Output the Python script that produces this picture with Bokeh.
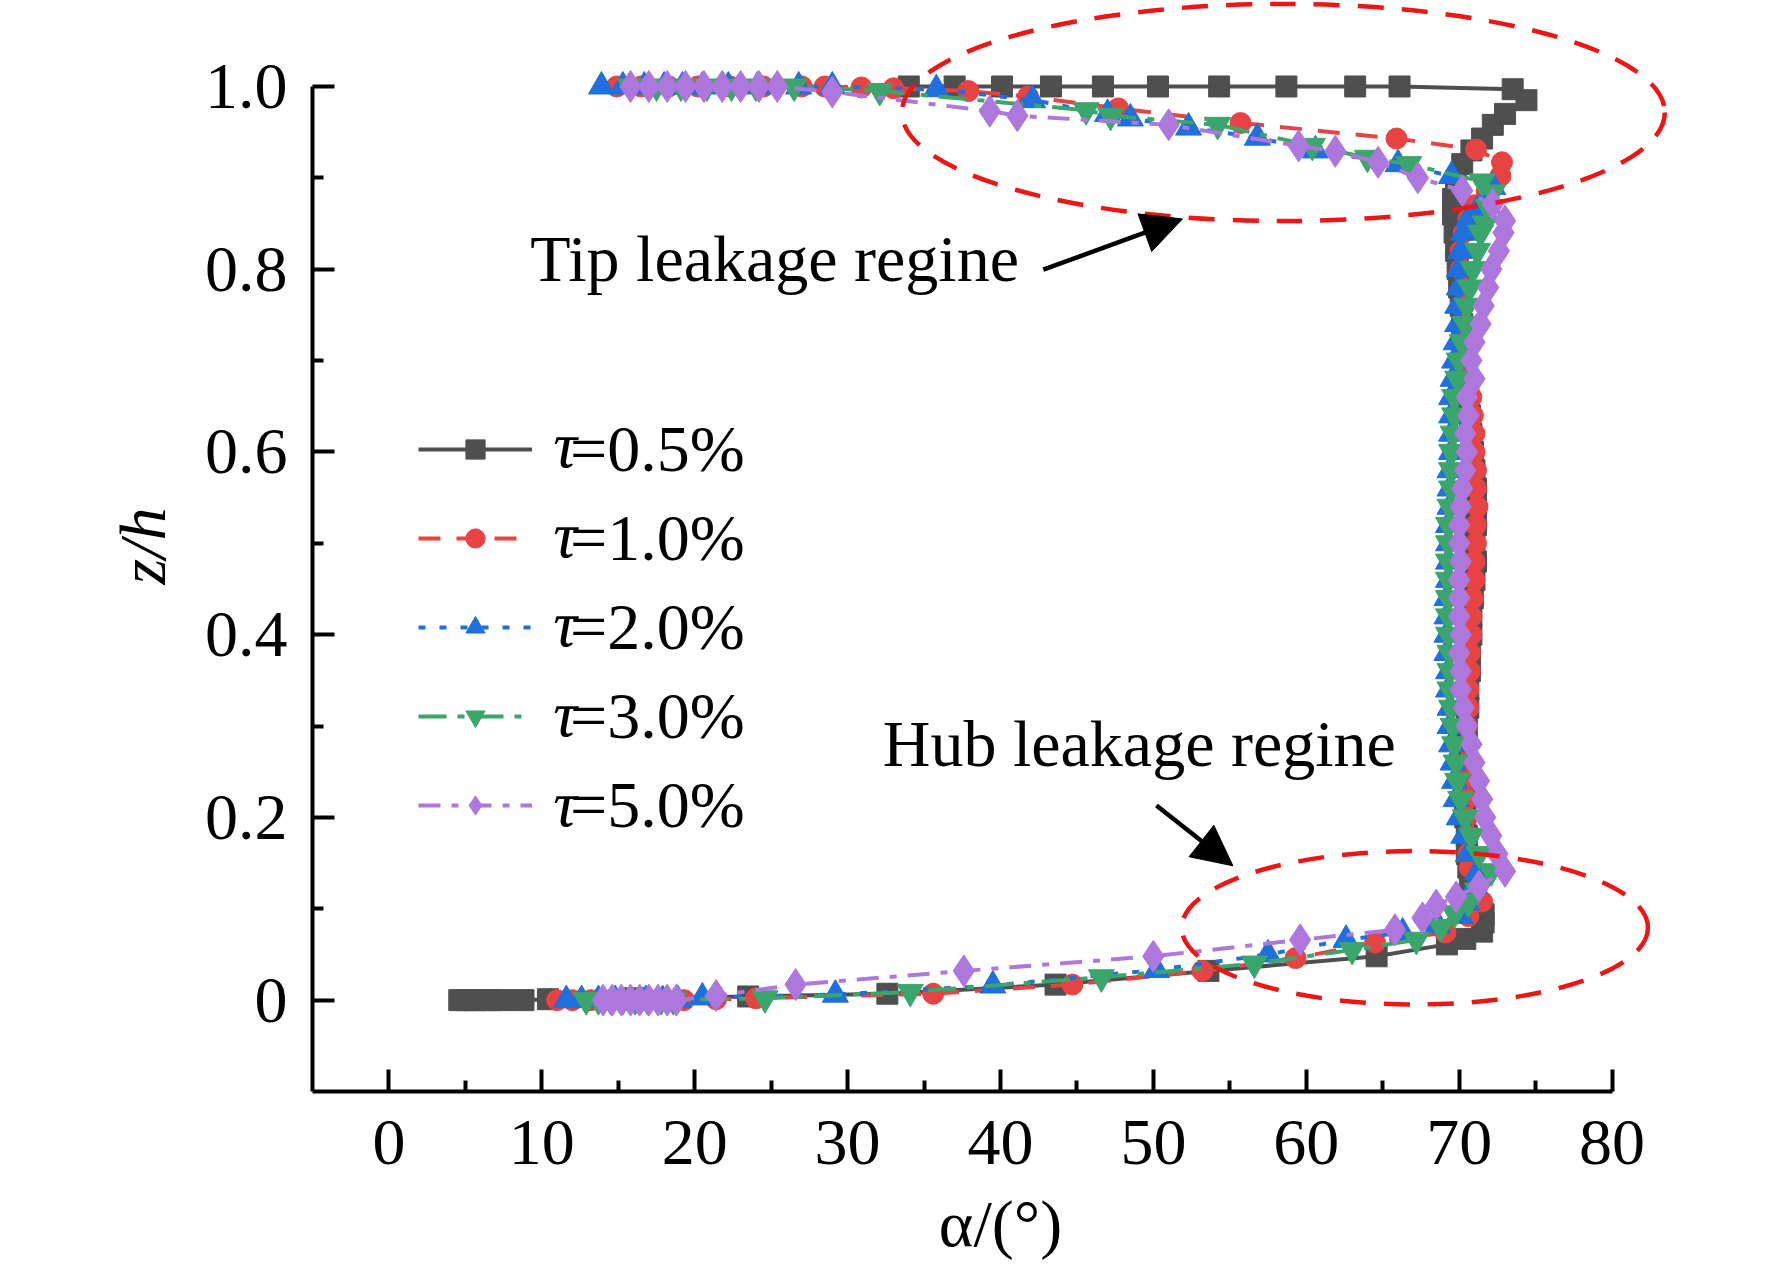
from bokeh.plotting import figure
from bokeh.models import Range1d, FixedTicker, Legend, LegendItem, Label, Arrow, NormalHead
from bokeh.embed import file_html
from bokeh.resources import INLINE

# ---------------- data ----------------
z_mid = [0.16, 0.18, 0.20, 0.22, 0.24, 0.26, 0.28, 0.30, 0.32, 0.34, 0.36, 0.38,
         0.40, 0.42, 0.44, 0.46, 0.48, 0.50, 0.52, 0.54, 0.56, 0.58, 0.60, 0.62,
         0.64, 0.66, 0.68, 0.70, 0.72, 0.74, 0.76, 0.78, 0.80, 0.82, 0.84]

# tau = 0.5 %
z05_bottom = [0, 0, 0, 0, 0, 0, 0, 0.001, 0.002, 0.004, 0.007, 0.017, 0.032, 0.048,
              0.061, 0.067, 0.075, 0.085, 0.094, 0.11, 0.13, 0.145]
a05_bottom = [4.6, 5.1, 5.6, 6.1, 6.7, 7.4, 8.8, 10.4, 16.0, 23.5, 32.6, 43.6, 53.6, 64.6,
              69.2, 70.4, 71.5, 71.6, 71.6, 71.1, 70.7, 70.6]
a05_mid = [70.5, 70.5, 70.4, 70.4, 70.4, 70.5, 70.5, 70.5, 70.6, 70.6, 70.7, 70.7,
           70.8, 70.8, 70.9, 71.0, 71.1, 71.0, 71.1, 71.1, 71.1, 71.0, 70.9, 70.8,
           70.7, 70.6, 70.5, 70.4, 70.3, 70.2, 70.1, 70.0, 69.9, 69.8, 69.7]
z05_top = [0.86, 0.877, 0.896, 0.915, 0.93, 0.943, 0.958, 0.970, 0.985, 0.997,
           1, 1, 1, 1, 1, 1, 1, 1, 1, 1]
a05_top = [69.6, 69.6, 69.8, 70.2, 70.8, 71.5, 72.2, 73.0, 74.4, 73.5,
           66.1, 63.2, 58.7, 54.3, 50.3, 46.7, 43.3, 40.1, 37.0, 34.0]

# tau = 1.0 %
z10_bottom = [0, 0, 0, 0, 0, 0, 0, 0, 0.001, 0.002, 0.007, 0.017, 0.032, 0.046,
              0.063, 0.074, 0.092, 0.108, 0.125, 0.145]
a10_bottom = [11.0, 12.0, 13.2, 14.5, 15.8, 17.0, 18.2, 19.3, 21.4, 24.0, 35.6, 44.7, 53.2, 59.3,
              64.5, 69.1, 70.6, 71.5, 71.2, 70.7]
a10_mid = [70.6, 70.6, 70.5, 70.5, 70.5, 70.5, 70.5, 70.5, 70.6, 70.6, 70.7, 70.7,
           70.8, 70.8, 70.9, 71.0, 71.0, 71.1, 71.1, 71.2, 71.1, 71.1, 71.0, 71.0,
           70.9, 70.8, 70.7, 70.6, 70.5, 70.4, 70.3, 70.2, 70.1, 70.1, 70.3]
z10_top = [0.855, 0.87, 0.885, 0.902, 0.917, 0.931, 0.943, 0.960, 0.976, 0.989, 0.995,
           0.998, 0.999, 1, 1, 1, 1, 1, 1, 1, 1]
a10_top = [70.6, 71.0, 71.8, 72.7, 72.8, 71.1, 65.9, 55.7, 47.7, 41.8, 37.9,
           33.0, 30.9, 28.5, 27.0, 24.5, 22.3, 20.2, 18.3, 16.5, 14.9]

# tau = 2.0 %
z20_bottom = [0, 0, 0, 0, 0, 0, 0, 0, 0.003, 0.006, 0.016, 0.033, 0.05, 0.066,
              0.074, 0.082, 0.092, 0.107, 0.125, 0.14]
a20_bottom = [11.6, 12.6, 13.7, 14.8, 15.8, 16.8, 17.9, 18.9, 20.5, 29.2, 39.5, 50.2, 57.5, 62.6,
              66.3, 68.6, 70.1, 70.5, 71.0, 71.2]
a20_mid = [70.6, 70.3, 70.0, 69.8, 69.7, 69.6, 69.5, 69.4, 69.4, 69.3, 69.3, 69.2,
           69.2, 69.2, 69.2, 69.3, 69.3, 69.3, 69.3, 69.4, 69.4, 69.4, 69.5, 69.5,
           69.5, 69.5, 69.6, 69.7, 69.8, 69.9, 69.9, 70.0, 70.0, 70.1, 70.3]
z20_top = [0.855, 0.865, 0.875, 0.89, 0.902, 0.915, 0.93, 0.944, 0.955, 0.965, 0.97,
           0.985, 0.997, 1, 1, 1, 1, 1, 1, 1, 1, 1, 1]
a20_top = [70.6, 71.2, 71.7, 72.2, 69.5, 66.0, 60.6, 56.8, 52.3, 48.5, 47.0,
           42.1, 35.8, 29.0, 26.8, 24.1, 22.2, 20.5, 19.2, 18.0, 16.7, 15.3, 13.9]

# tau = 3.0 %
z30_bottom = [0, 0, 0, 0, 0, 0, 0, 0, 0.002, 0.009, 0.025, 0.04, 0.055, 0.066,
              0.08, 0.095, 0.107, 0.12, 0.141]
a30_bottom = [12.9, 13.7, 14.5, 15.3, 16.1, 16.9, 17.8, 18.6, 24.6, 34.1, 46.6, 56.6, 63.0, 67.2,
              68.8, 69.7, 70.6, 71.2, 72.1]
a30_mid = [71.3, 70.8, 70.4, 70.1, 69.9, 69.8, 69.7, 69.6, 69.5, 69.4, 69.4, 69.4,
           69.3, 69.3, 69.3, 69.3, 69.3, 69.3, 69.3, 69.4, 69.5, 69.5, 69.5, 69.6,
           69.7, 69.7, 69.9, 70.0, 70.2, 70.4, 70.5, 70.7, 70.9, 71.2, 71.4]
z30_top = [0.85, 0.868, 0.884, 0.896, 0.915, 0.922, 0.935, 0.958, 0.968, 0.974, 0.995,
           1, 1, 1, 1, 1, 1, 1]
a30_top = [71.7, 71.9, 72.2, 71.5, 66.7, 64.0, 60.4, 54.2, 47.2, 45.6, 32.1,
           26.5, 24.0, 22.4, 20.8, 19.1, 17.5, 15.8]

# tau = 5.0 %
z50_bottom = [0, 0, 0, 0, 0, 0, 0, 0, 0, 0.005, 0.017, 0.032, 0.048, 0.066,
              0.077, 0.09, 0.104, 0.113, 0.125, 0.141]
a50_bottom = [14.0, 14.6, 15.2, 15.8, 16.4, 17.0, 17.6, 18.2, 18.8, 21.4, 26.6, 37.6, 50.0, 59.6,
              65.8, 67.6, 68.5, 69.8, 71.3, 73.0]
a50_mid = [72.5, 72.1, 71.7, 71.5, 71.3, 71.0, 70.8, 70.5, 70.3, 70.1, 70.1, 70.0,
           70.1, 70.0, 70.0, 70.0, 70.1, 70.0, 70.0, 70.1, 70.2, 70.4, 70.5, 70.4,
           70.6, 70.5, 71.0, 70.8, 71.0, 71.4, 71.6, 71.9, 72.1, 72.6, 72.9]
z50_top = [0.853, 0.871, 0.886, 0.9, 0.917, 0.929, 0.935, 0.958, 0.968, 0.973, 0.994,
           1, 1, 1, 1, 1, 1, 1, 1, 1]
a50_top = [73.0, 72.2, 70.2, 67.3, 64.7, 61.9, 59.5, 51.0, 41.1, 39.3, 29.0,
           25.4, 24.2, 23.0, 21.8, 20.6, 19.4, 18.2, 17.0, 15.8]

series_labels = ["=0.5%", "=1.0%", "=2.0%", "=3.0%", "=5.0%"]

x_ticks = [0, 10, 20, 30, 40, 50, 60, 70, 80]
x_minor = [5, 15, 25, 35, 45, 55, 65, 75]
y_ticks = [0, 0.2, 0.4, 0.6, 0.8, 1.0]
y_minor = [0.1, 0.3, 0.5, 0.7, 0.9]
y_tick_labels = {0: "0", 0.2: "0.2", 0.4: "0.4", 0.6: "0.6", 0.8: "0.8", 1: "1.0"}

# highlighted regions (dashed ellipses): centre, width, height in data units
region_x = [58.5, 67.1]
region_y = [0.9715, 0.0792]
region_w = [49.9, 30.5]
region_h = [0.2376, 0.168]

FONT = "Liberation Serif"
FS = "66px"

p = figure(width=1756, height=1262, output_backend="svg", toolbar_location=None,
           x_range=Range1d(-5, 85), y_range=Range1d(-0.1, 1.0941),
           min_border_left=312, min_border_right=68, min_border_top=0,
           min_border_bottom=171)
p.grid.visible = False
p.outline_line_color = None
p.background_fill_color = "white"

p.xaxis.ticker = FixedTicker(ticks=x_ticks, minor_ticks=x_minor)
p.yaxis.ticker = FixedTicker(ticks=y_ticks, minor_ticks=y_minor)
p.xaxis.bounds = (-5, 80)
p.yaxis.bounds = (-0.1, 1.0)
p.yaxis.major_label_overrides = y_tick_labels
for ax in (p.xaxis[0], p.yaxis[0]):
    ax.axis_line_width = 4
    ax.axis_line_color = "black"
    ax.major_tick_line_width = 4
    ax.minor_tick_line_width = 4
    ax.major_tick_line_color = "black"
    ax.minor_tick_line_color = "black"
    ax.major_tick_in = 22
    ax.major_tick_out = 0
    ax.minor_tick_in = 11
    ax.minor_tick_out = 0
    ax.major_label_text_font = FONT
    ax.major_label_text_font_size = FS
    ax.major_label_text_color = "black"
    ax.axis_label_text_font = FONT
    ax.axis_label_text_font_size = FS
    ax.axis_label_text_color = "black"
p.xaxis.major_label_standoff = 29
p.yaxis.major_label_standoff = 25
p.yaxis.axis_label = "z/h"
p.yaxis.axis_label_text_font_style = "italic"
p.yaxis.axis_label_standoff = 23
p.xaxis.axis_label = "α/(°)"
p.xaxis.axis_label_text_font_style = "normal"
p.xaxis.axis_label_standoff = 20

styles = [
    dict(color="#4f4f4f", dash="solid", marker="square", size=21),
    dict(color="#e84343", dash="22 16", marker="circle", size=21),
    dict(color="#1f6fdc", dash="7 14", marker="triangle", size=26),
    dict(color="#3aa66b", dash="28 11 7 11", marker="inverted_triangle", size=26),
    dict(color="#ad77dd", dash="22 11 7 11", marker="diamond", size=32),
]
data = [
    (a05_bottom + a05_mid + a05_top, z05_bottom + z_mid + z05_top),
    (a10_bottom + a10_mid + a10_top, z10_bottom + z_mid + z10_top),
    (a20_bottom + a20_mid + a20_top, z20_bottom + z_mid + z20_top),
    (a30_bottom + a30_mid + a30_top, z30_bottom + z_mid + z30_top),
    (a50_bottom + a50_mid + a50_top, z50_bottom + z_mid + z50_top),
]

items = []
for (ax_vals, z_vals), st, lab in zip(data, styles, series_labels):
    rl = p.line(ax_vals, z_vals, line_color=st["color"], line_width=4, line_dash=st["dash"])
    rs = p.scatter(ax_vals, z_vals, marker=st["marker"], size=st["size"],
                   fill_color=st["color"], line_color=st["color"], line_width=1)
    items.append(LegendItem(label=lab, renderers=[rl, rs]))

legend = Legend(items=items, location=(106, 248), orientation="vertical",
                glyph_width=114, glyph_height=48, label_height=48, spacing=13,
                padding=0, margin=0, label_standoff=38,
                label_text_font=FONT, label_text_font_size=FS,
                label_text_color="black",
                border_line_color=None, background_fill_alpha=0)
p.add_layout(legend)

legend_rows = [0.6081, 0.5100, 0.4119, 0.3138, 0.2157]
for zr in legend_rows:
    p.add_layout(Label(x=10.74, y=zr, text="τ", text_font=FONT, text_font_size=FS,
                       text_font_style="italic", text_baseline="middle", text_align="left",
                       text_color="black"))

# dashed ellipses marking the leakage regions
p.ellipse(x=region_x, y=region_y, width=region_w, height=region_h,
          fill_color=None, line_color="#f01414", line_width=4.5, line_dash="26 18")

# annotations
p.add_layout(Label(x=9.24, y=0.812, text="Tip leakage regine", text_font=FONT,
                   text_font_size=FS, text_baseline="alphabetic", text_color="black"))
p.add_layout(Label(x=32.3, y=0.281, text="Hub leakage regine", text_font=FONT,
                   text_font_size=FS, text_baseline="alphabetic", text_color="black"))
p.add_layout(Arrow(end=NormalHead(size=40, fill_color="black", line_color="black"),
                   x_start=42.8, y_start=0.7995, x_end=51.9, y_end=0.855,
                   line_width=4.5, line_color="black"))
p.add_layout(Arrow(end=NormalHead(size=40, fill_color="black", line_color="black"),
                   x_start=50.2, y_start=0.213, x_end=55.2, y_end=0.147,
                   line_width=4.5, line_color="black"))

open("out.html", "w").write(file_html(p, INLINE))
